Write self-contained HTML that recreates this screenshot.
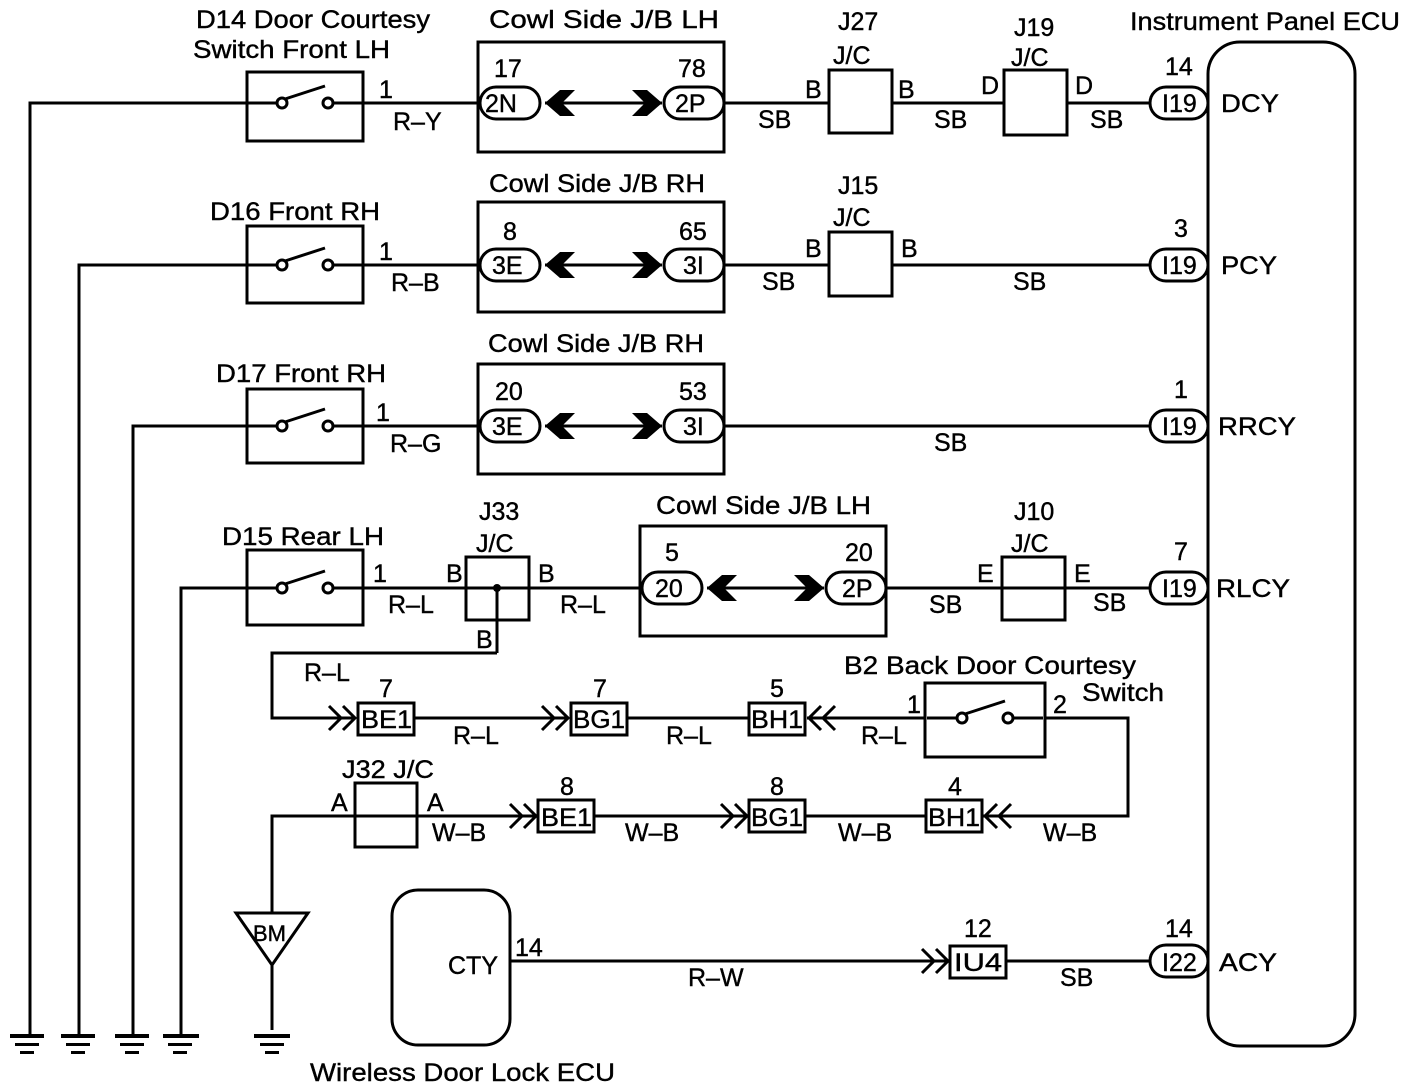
<!DOCTYPE html>
<html><head><style>body{margin:0;background:#fff}svg{display:block}text{font-family:"Liberation Sans",Arial,sans-serif;font-size:25px;fill:#000;stroke:#000;stroke-width:0.4}</style></head>
<body>
<svg width="1424" height="1088" viewBox="0 0 1424 1088" xmlns="http://www.w3.org/2000/svg">
<defs>
<g id="sw"><line x1="0" y1="0" x2="30" y2="0"/><circle cx="35" cy="0" r="5" fill="#fff"/><circle cx="81" cy="0" r="5" fill="#fff"/><line x1="86" y1="0" x2="116" y2="0"/><line x1="38" y1="-4" x2="78" y2="-17"/></g>
<g id="jbl"><polygon points="0,0 15,-13 30,-13 17,0 30,13 15,13" fill="#000"/></g>
<g id="jbr"><polygon points="0,0 -15,-13 -30,-13 -17,0 -30,13 -15,13" fill="#000"/></g>
<g id="dr"><polyline points="-26,-12 -14,0 -26,12" fill="none"/><polyline points="-12,-12 0,0 -12,12" fill="none"/></g>
<g id="dl"><polyline points="26,-12 14,0 26,12" fill="none"/><polyline points="12,-12 0,0 12,12" fill="none"/></g>
</defs>
<g stroke="#000" stroke-width="3" fill="none">
<polyline points="30,1035 30,103 247,103"/>
<polyline points="79,1035 79,265 247,265"/>
<polyline points="133,1035 133,426 247,426"/>
<polyline points="181,1035 181,588 247,588"/>
<rect x="247" y="72" width="116" height="69"/>
<rect x="247" y="226" width="116" height="77"/>
<rect x="247" y="389" width="116" height="74"/>
<rect x="247" y="550" width="116" height="75"/>
<use href="#sw" x="247" y="103"/><use href="#sw" x="247" y="265"/><use href="#sw" x="247" y="426"/><use href="#sw" x="247" y="588"/>
<line x1="363" y1="103" x2="479" y2="103"/><line x1="363" y1="265" x2="479" y2="265"/><line x1="363" y1="426" x2="479" y2="426"/><line x1="363" y1="588" x2="466" y2="588"/>
<rect x="478" y="42" width="246" height="110"/>
<rect x="478" y="202" width="246" height="110"/>
<rect x="478" y="364" width="246" height="110"/>
<rect x="640" y="526" width="246" height="110"/>
<line x1="545" y1="103" x2="662" y2="103"/><line x1="545" y1="265" x2="662" y2="265"/><line x1="545" y1="426" x2="662" y2="426"/><line x1="707" y1="588" x2="824" y2="588"/>
<rect x="480" y="87" width="60" height="32" rx="16" fill="#fff"/><rect x="664" y="87" width="60" height="32" rx="16" fill="#fff"/>
<rect x="480" y="249" width="60" height="32" rx="16" fill="#fff"/><rect x="664" y="249" width="60" height="32" rx="16" fill="#fff"/>
<rect x="480" y="410" width="60" height="32" rx="16" fill="#fff"/><rect x="664" y="410" width="60" height="32" rx="16" fill="#fff"/>
<rect x="642" y="572" width="60" height="32" rx="16" fill="#fff"/><rect x="826" y="572" width="60" height="32" rx="16" fill="#fff"/>
<rect x="1150" y="87" width="58" height="32" rx="16" fill="#fff"/>
<rect x="1150" y="249" width="58" height="32" rx="16" fill="#fff"/>
<rect x="1150" y="410" width="58" height="32" rx="16" fill="#fff"/>
<rect x="1150" y="572" width="58" height="32" rx="16" fill="#fff"/>
<rect x="1150" y="945" width="58" height="32" rx="16" fill="#fff"/>
<line x1="724" y1="103" x2="829" y2="103"/><line x1="892" y1="103" x2="1004" y2="103"/><line x1="1067" y1="103" x2="1150" y2="103"/>
<line x1="724" y1="265" x2="829" y2="265"/><line x1="892" y1="265" x2="1150" y2="265"/>
<line x1="724" y1="426" x2="1150" y2="426"/>
<line x1="529" y1="588" x2="642" y2="588"/><line x1="886" y1="588" x2="1002" y2="588"/><line x1="1065" y1="588" x2="1150" y2="588"/>
<rect x="829" y="70" width="63" height="63"/>
<rect x="1004" y="70" width="63" height="65"/>
<rect x="829" y="232" width="63" height="64"/>
<rect x="466" y="557" width="63" height="63"/><line x1="466" y1="588" x2="529" y2="588"/><line x1="497" y1="588" x2="497" y2="653"/>
<rect x="1002" y="557" width="63" height="63"/><line x1="1002" y1="588" x2="1065" y2="588"/>
<rect x="355" y="783" width="62" height="64"/>
<rect x="1208" y="42" width="147" height="1004" rx="32"/>
<polyline points="497,653 272,653 272,718 355,718"/>
<rect x="358" y="703" width="56" height="32"/><line x1="414" y1="718" x2="569" y2="718"/>
<rect x="571" y="703" width="56" height="32"/><line x1="627" y1="718" x2="749" y2="718"/>
<rect x="749" y="703" width="56" height="32"/><line x1="807" y1="718" x2="925" y2="718"/>
<rect x="925" y="683" width="120" height="74"/>
<use href="#sw" x="925" y="718" transform="translate(2 0)"/>
<polyline points="1045,718 1128,718 1128,816 983,816"/>
<polyline points="272,1030 272,816 536,816"/>
<rect x="538" y="800" width="56" height="32"/><line x1="594" y1="816" x2="747" y2="816"/>
<rect x="749" y="800" width="56" height="32"/><line x1="805" y1="816" x2="926" y2="816"/>
<rect x="926" y="800" width="56" height="32"/>
<polygon points="236,913 308,913 272,965" fill="#fff"/>
<rect x="392" y="890" width="118" height="155" rx="26"/>
<line x1="510" y1="961" x2="948" y2="961"/>
<rect x="950" y="946" width="56" height="32"/><line x1="1006" y1="961" x2="1150" y2="961"/>
<use href="#dr" x="355" y="718"/><use href="#dr" x="568" y="718"/><use href="#dl" x="809" y="718"/>
<use href="#dr" x="536" y="816"/><use href="#dr" x="747" y="816"/><use href="#dl" x="985" y="816"/>
<use href="#dr" x="948" y="961"/>
</g>
<g stroke="none">
<use href="#jbl" x="545" y="103"/><use href="#jbr" x="662" y="103"/>
<use href="#jbl" x="545" y="265"/><use href="#jbr" x="662" y="265"/>
<use href="#jbl" x="545" y="426"/><use href="#jbr" x="662" y="426"/>
<use href="#jbl" x="707" y="588"/><use href="#jbr" x="824" y="588"/>
<circle cx="497" cy="588" r="4" fill="#000"/>
</g>
<g fill="#000">
<rect x="10" y="1034" width="34" height="4"/><rect x="15" y="1043" width="24" height="3"/><rect x="20" y="1051" width="14" height="3"/>
<rect x="61" y="1034" width="34" height="4"/><rect x="66" y="1043" width="24" height="3"/><rect x="71" y="1051" width="14" height="3"/>
<rect x="115" y="1034" width="34" height="4"/><rect x="120" y="1043" width="24" height="3"/><rect x="125" y="1051" width="14" height="3"/>
<rect x="163" y="1034" width="36" height="4"/><rect x="168" y="1043" width="24" height="3"/><rect x="173" y="1051" width="14" height="3"/>
<rect x="254" y="1034" width="36" height="4"/><rect x="260" y="1043" width="24" height="3"/><rect x="265" y="1051" width="14" height="3"/>
</g>
<text x="196" y="28" textLength="234" lengthAdjust="spacingAndGlyphs">D14 Door Courtesy</text>
<text x="193" y="58" textLength="197" lengthAdjust="spacingAndGlyphs">Switch Front LH</text>
<text x="489" y="28" textLength="230" lengthAdjust="spacingAndGlyphs">Cowl Side J/B LH</text>
<text x="838" y="30">J27</text><text x="833" y="64">J/C</text>
<text x="1014" y="36">J19</text><text x="1011" y="66">J/C</text>
<text x="1130" y="30" textLength="270" lengthAdjust="spacingAndGlyphs">Instrument Panel ECU</text>
<text x="379" y="98">1</text><text x="393" y="130">R–Y</text>
<text x="494" y="77">17</text><text x="678" y="77">78</text>
<text x="485" y="112">2N</text><text x="675" y="112">2P</text>
<text x="805" y="98">B</text><text x="898" y="98">B</text>
<text x="758" y="128">SB</text><text x="934" y="128">SB</text>
<text x="981" y="94">D</text><text x="1075" y="94">D</text><text x="1090" y="128">SB</text>
<text x="1165" y="75">14</text><text x="1162" y="112">I19</text><text x="1221" y="112" textLength="58" lengthAdjust="spacingAndGlyphs">DCY</text>

<text x="210" y="220" textLength="170" lengthAdjust="spacingAndGlyphs">D16 Front RH</text>
<text x="489" y="192" textLength="216" lengthAdjust="spacingAndGlyphs">Cowl Side J/B RH</text>
<text x="838" y="194">J15</text><text x="833" y="226">J/C</text>
<text x="379" y="260">1</text><text x="391" y="291">R–B</text>
<text x="503" y="240">8</text><text x="679" y="240">65</text>
<text x="492" y="274">3E</text><text x="683" y="274">3I</text>
<text x="805" y="257">B</text><text x="901" y="257">B</text>
<text x="762" y="290">SB</text><text x="1013" y="290">SB</text>
<text x="1174" y="237">3</text><text x="1162" y="274">I19</text><text x="1221" y="274" textLength="56" lengthAdjust="spacingAndGlyphs">PCY</text>

<text x="216" y="382" textLength="170" lengthAdjust="spacingAndGlyphs">D17 Front RH</text>
<text x="488" y="352" textLength="216" lengthAdjust="spacingAndGlyphs">Cowl Side J/B RH</text>
<text x="376" y="421">1</text><text x="390" y="452">R–G</text>
<text x="495" y="400">20</text><text x="679" y="400">53</text>
<text x="492" y="435">3E</text><text x="683" y="435">3I</text>
<text x="934" y="451">SB</text>
<text x="1174" y="398">1</text><text x="1162" y="435">I19</text><text x="1218" y="435" textLength="78" lengthAdjust="spacingAndGlyphs">RRCY</text>

<text x="222" y="545" textLength="162" lengthAdjust="spacingAndGlyphs">D15 Rear LH</text>
<text x="479" y="520">J33</text><text x="476" y="552">J/C</text>
<text x="656" y="514" textLength="215" lengthAdjust="spacingAndGlyphs">Cowl Side J/B LH</text>
<text x="1014" y="520">J10</text><text x="1011" y="552">J/C</text>
<text x="373" y="582">1</text><text x="388" y="613">R–L</text>
<text x="446" y="582">B</text><text x="538" y="582">B</text><text x="560" y="613">R–L</text>
<text x="476" y="648">B</text>
<text x="665" y="561">5</text><text x="845" y="561">20</text>
<text x="655" y="597">20</text><text x="842" y="597">2P</text>
<text x="977" y="582">E</text><text x="1074" y="582">E</text>
<text x="929" y="613">SB</text><text x="1093" y="611">SB</text>
<text x="1174" y="560">7</text><text x="1162" y="597">I19</text><text x="1216" y="597" textLength="74" lengthAdjust="spacingAndGlyphs">RLCY</text>

<text x="304" y="681">R–L</text>
<text x="379" y="697">7</text><text x="593" y="697">7</text><text x="770" y="697">5</text>
<text x="361" y="728" textLength="51" lengthAdjust="spacingAndGlyphs">BE1</text><text x="573" y="728" textLength="52" lengthAdjust="spacingAndGlyphs">BG1</text><text x="751" y="728" textLength="52" lengthAdjust="spacingAndGlyphs">BH1</text>
<text x="453" y="744">R–L</text><text x="666" y="744">R–L</text><text x="861" y="744">R–L</text>
<text x="844" y="674" textLength="292" lengthAdjust="spacingAndGlyphs">B2 Back Door Courtesy</text>
<text x="1082" y="701" textLength="82" lengthAdjust="spacingAndGlyphs">Switch</text>
<text x="907" y="713">1</text><text x="1053" y="713">2</text>

<text x="342" y="778" textLength="92" lengthAdjust="spacingAndGlyphs">J32 J/C</text>
<text x="331" y="811">A</text><text x="427" y="811">A</text><text x="432" y="841">W–B</text>
<text x="560" y="795">8</text><text x="770" y="795">8</text><text x="948" y="795">4</text>
<text x="541" y="826" textLength="51" lengthAdjust="spacingAndGlyphs">BE1</text><text x="751" y="826" textLength="52" lengthAdjust="spacingAndGlyphs">BG1</text><text x="928" y="826" textLength="52" lengthAdjust="spacingAndGlyphs">BH1</text>
<text x="625" y="841">W–B</text><text x="838" y="841">W–B</text><text x="1043" y="841">W–B</text>
<text x="253" y="941" style="font-size:22px">BM</text>

<text x="448" y="974">CTY</text><text x="515" y="956">14</text>
<text x="688" y="986">R–W</text>
<text x="964" y="937">12</text><text x="954" y="971" textLength="48" lengthAdjust="spacingAndGlyphs">IU4</text>
<text x="1060" y="986">SB</text>
<text x="1165" y="937">14</text><text x="1162" y="971">I22</text><text x="1219" y="971" textLength="58" lengthAdjust="spacingAndGlyphs">ACY</text>
<text x="310" y="1081" textLength="305" lengthAdjust="spacingAndGlyphs">Wireless Door Lock ECU</text>
</svg>
</body></html>
